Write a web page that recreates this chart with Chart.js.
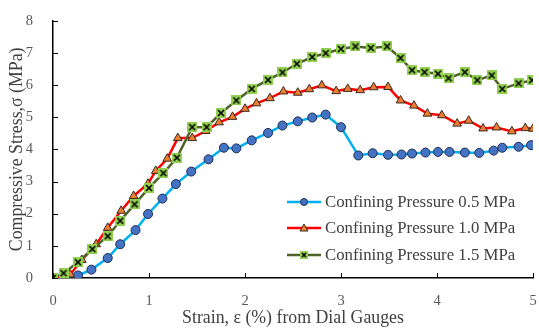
<!DOCTYPE html>
<html>
<head>
<meta charset="utf-8">
<script src="https://cdn.jsdelivr.net/npm/chart.js@4/dist/chart.umd.min.js"></script>
<style>
  html, body { margin: 0; padding: 0; background: #fff; }
  #wrap { width: 539px; height: 331px; }
</style>
</head>
<body>
<div id="wrap"><canvas id="chart" width="539" height="331"></canvas></div>
<script>
const seriesLabels = ["Confining Pressure 0.5 MPa", "Confining Pressure 1.0 MPa", "Confining Pressure 1.5 MPa"];

const strain05 = [0, 0.11, 0.26, 0.40, 0.57, 0.70, 0.86, 0.99, 1.14, 1.28, 1.44, 1.62, 1.78, 1.91, 2.07, 2.24, 2.39, 2.55, 2.70, 2.84, 3.00, 3.18, 3.33, 3.49, 3.63, 3.74, 3.88, 4.01, 4.13, 4.29, 4.44, 4.59, 4.68, 4.85, 4.98];
const stress05 = [0, 0.03, 0.08, 0.26, 0.62, 1.05, 1.49, 1.99, 2.47, 2.92, 3.31, 3.69, 4.05, 4.03, 4.28, 4.51, 4.74, 4.87, 4.99, 5.08, 4.69, 3.81, 3.88, 3.83, 3.84, 3.87, 3.90, 3.92, 3.92, 3.90, 3.89, 3.96, 4.05, 4.08, 4.13];

const strain10 = [0, 0.18, 0.30, 0.45, 0.57, 0.71, 0.84, 0.99, 1.07, 1.19, 1.30, 1.45, 1.59, 1.73, 1.87, 2.00, 2.12, 2.26, 2.40, 2.55, 2.67, 2.80, 2.95, 3.07, 3.20, 3.34, 3.49, 3.62, 3.76, 3.90, 4.05, 4.21, 4.33, 4.48, 4.62, 4.78, 4.92, 5.00];
const stress10 = [0, 0.11, 0.56, 1.05, 1.56, 2.09, 2.55, 2.93, 3.33, 3.71, 4.35, 4.35, 4.57, 4.84, 5.01, 5.26, 5.43, 5.59, 5.80, 5.76, 5.87, 5.99, 5.81, 5.88, 5.84, 5.93, 5.94, 5.52, 5.36, 5.11, 5.06, 4.80, 4.89, 4.65, 4.68, 4.56, 4.66, 4.64];

const strain15 = [0, 0.11, 0.26, 0.41, 0.57, 0.70, 0.85, 1.00, 1.15, 1.29, 1.45, 1.60, 1.75, 1.91, 2.07, 2.24, 2.39, 2.54, 2.70, 2.84, 3.00, 3.15, 3.31, 3.48, 3.62, 3.74, 3.87, 4.01, 4.12, 4.29, 4.42, 4.57, 4.68, 4.85, 4.99];
const stress15 = [0, 0.15, 0.49, 0.90, 1.30, 1.78, 2.29, 2.80, 3.26, 3.74, 4.69, 4.69, 5.13, 5.52, 5.88, 6.16, 6.39, 6.66, 6.87, 6.99, 7.12, 7.20, 7.15, 7.20, 6.84, 6.46, 6.40, 6.35, 6.21, 6.40, 6.15, 6.30, 5.88, 6.05, 6.15];

const xTicks = [0, 1, 2, 3, 4, 5];
const yTicks = [0, 1, 2, 3, 4, 5, 6, 7, 8];

function toPoints(xs, ys) {
    return xs.map((x, i) => ({ x: x, y: ys[i] }));
}

// green square with a black cross, like the Excel marker
function crossSquare(size) {
    const c = document.createElement("canvas");
    c.width = size; c.height = size;
    const g = c.getContext("2d");
    g.fillStyle = "#92D050";
    g.fillRect(0, 0, size, size);
    g.strokeStyle = "#000";
    g.lineWidth = 1.6;
    g.beginPath();
    g.moveTo(2, 2); g.lineTo(size - 2, size - 2);
    g.moveTo(size - 2, 2); g.lineTo(2, size - 2);
    g.stroke();
    return c;
}
const crossMarker = crossSquare(10);

const serif = "'Liberation Serif', 'Times New Roman', serif";

const styles = [
    { line: "#00B0F0", fill: "#4472C4", border: "#1F2D50", shape: "circle", r: 4.5 },
    { line: "#FF0000", fill: "#ED7D31", border: "#3A2A20", shape: "triangle", r: 5 },
    { line: "#4F6228", fill: "#92D050", border: "#000", shape: crossMarker, r: 5 }
];

const insideLegend = {
    id: "insideLegend",
    afterDraw(chart) {
        const ctx = chart.ctx;
        const xs = chart.scales.x, ys = chart.scales.y;
        ctx.save();
        // tick marks pointing inward
        ctx.strokeStyle = "#000";
        ctx.lineWidth = 1;
        ctx.beginPath();
        xTicks.forEach(v => {
            const px = Math.round(xs.getPixelForValue(v)) + 0.5;
            ctx.moveTo(px, ys.bottom);
            ctx.lineTo(px, ys.bottom - 5);
        });
        yTicks.forEach(v => {
            const py = Math.round(ys.getPixelForValue(v)) + 0.5;
            ctx.moveTo(xs.left, py);
            ctx.lineTo(xs.left + 5, py);
        });
        ctx.stroke();

        // legend
        const rows = [202, 228, 255];
        ctx.font = "16.8px " + serif;
        ctx.textBaseline = "middle";
        chart.data.datasets.forEach((ds, i) => {
            const st = styles[i];
            const y = rows[i];
            ctx.strokeStyle = st.line;
            ctx.lineWidth = 2.5;
            ctx.beginPath();
            ctx.moveTo(287, y);
            ctx.lineTo(321, y);
            ctx.stroke();
            if (st.shape === "circle") {
                ctx.fillStyle = st.fill; ctx.strokeStyle = st.border; ctx.lineWidth = 1;
                ctx.beginPath(); ctx.arc(304, y, 3.5, 0, Math.PI * 2); ctx.fill(); ctx.stroke();
            } else if (st.shape === "triangle") {
                ctx.fillStyle = st.fill; ctx.strokeStyle = st.border; ctx.lineWidth = 1;
                ctx.beginPath(); ctx.moveTo(304, y - 4); ctx.lineTo(308, y + 3); ctx.lineTo(300, y + 3); ctx.closePath();
                ctx.fill(); ctx.stroke();
            } else {
                ctx.drawImage(crossSquare(8), 300, y - 4);
            }
            ctx.fillStyle = "#404040";
            ctx.fillText(ds.label, 325, y + 1);
        });
        ctx.restore();
    }
};

new Chart(document.getElementById("chart"), {
    type: "scatter",
    data: {
        datasets: [
            { label: seriesLabels[0], data: toPoints(strain05, stress05), order: 2 },
            { label: seriesLabels[1], data: toPoints(strain10, stress10), order: 1 },
            { label: seriesLabels[2], data: toPoints(strain15, stress15), order: 0 }
        ].map((ds, i) => Object.assign(ds, {
            showLine: true,
            borderColor: styles[i].line,
            borderWidth: 2.5,
            tension: 0,
            pointStyle: styles[i].shape,
            pointRadius: styles[i].r,
            pointBackgroundColor: styles[i].fill,
            pointBorderColor: styles[i].border,
            pointBorderWidth: 1
        }))
    },
    options: {
        responsive: false,
        animation: false,
        layout: { padding: { top: 15, right: 4, left: 0, bottom: 0 } },
        plugins: {
            legend: { display: false },
            tooltip: { enabled: false }
        },
        scales: {
            x: {
                type: "linear",
                min: 0, max: 5,
                afterBuildTicks: s => { s.ticks = xTicks.map(v => ({ value: v })); },
                afterFit: s => { s.height = 53; s.paddingRight = 0; s.paddingLeft = 0; },
                grid: { display: false },
                border: { display: true, color: "#000", width: 1.5 },
                ticks: { color: "#595959", font: { family: serif, size: 14.5 }, padding: 6 },
                title: { display: true, text: "Strain, ε (%) from Dial Gauges", color: "#404040",
                    font: { family: serif, size: 17.8 }, padding: { top: 2, bottom: 2 } }
            },
            y: {
                min: 0, max: 8,
                afterBuildTicks: s => { s.ticks = yTicks.map(v => ({ value: v })); },
                afterFit: s => { s.width = 53; },
                grid: { display: false },
                border: { display: true, color: "#000", width: 1.5 },
                ticks: { color: "#595959", font: { family: serif, size: 14.5 }, padding: 12 },
                title: { display: true, text: "Compressive Stress,σ (MPa)", color: "#404040",
                    font: { family: serif, size: 17.8 }, padding: { top: 7, bottom: 0 } }
            }
        }
    },
    plugins: [insideLegend]
});
</script>
</body>
</html>
